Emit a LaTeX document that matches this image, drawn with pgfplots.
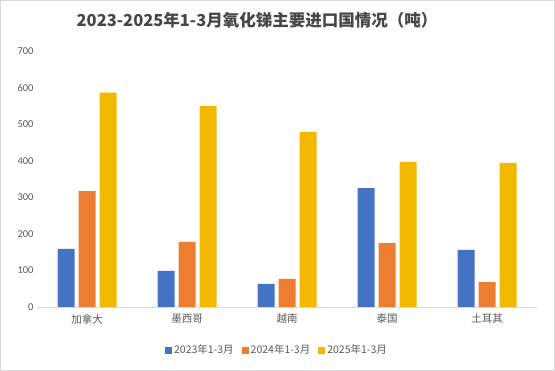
\documentclass[border=0pt]{standalone}
\usepackage{pgfplots}
\pgfplotsset{compat=1.18}
\usepackage{fontspec}
\setmainfont{Carlito}
\newfontfamily\cjk{Noto Sans CJK SC}
\definecolor{cblue}{HTML}{4472C4}
\definecolor{corange}{HTML}{ED7D31}
\definecolor{cyellow}{HTML}{F2B800}
\definecolor{ctext}{HTML}{595959}
\definecolor{cframe}{HTML}{D9D9D9}
\begin{document}
\begin{tikzpicture}
\fill[white] (0,0) rectangle (555bp,371bp);
\draw[cframe, line width=0.75bp] (0.5bp,0.5bp) rectangle (554.5bp,370.5bp);
\node[font=\cjk\bfseries\fontsize{16.5bp}{19bp}\selectfont, text=ctext!80!black] at (257bp,351bp) {2023-2025年1-3月氧化锑主要进口国情况（吨）};
\begin{axis}[
  at={(37bp,64bp)}, anchor=south west,
  scale only axis, width=500bp, height=256bp,
  xmin=-0.5, xmax=4.5, ymin=0, ymax=700,
  ybar=4bp, bar width=17bp,
  xtick=data,
  xticklabels={加拿大,墨西哥,越南,泰国,土耳其},
  x tick label style={font=\cjk\fontsize{10.5bp}{12bp}\selectfont, text=ctext, yshift=-3.5bp},
  ytick={0,100,...,700},
  y tick label style={font=\fontsize{10.5bp}{12bp}\selectfont, text=ctext},
  /pgf/number format/assume math mode=true,
  major tick length=0pt,
  axis lines*=left,
  y axis line style={draw=none},
  x axis line style={draw=cframe, line width=1bp, -},
  legend style={at={(0.48,-0.168)}, anchor=center, draw=none, fill=none, legend columns=-1,
    font=\cjk\fontsize{10.5bp}{12bp}\selectfont, text=ctext,
    /tikz/every even column/.append style={column sep=6bp}},
  legend image code/.code={\fill[#1] (0bp,-3.5bp) rectangle (7bp,3.5bp);},
]
\addplot[fill=cblue, draw=none] coordinates {(0,159) (1,99) (2,63) (3,325) (4,156)};
\addplot[fill=corange, draw=none] coordinates {(0,317) (1,178) (2,77) (3,175) (4,68)};
\addplot[fill=cyellow, draw=none] coordinates {(0,586) (1,550) (2,479) (3,397) (4,394)};
\legend{2023年1-3月,2024年1-3月,2025年1-3月}
\end{axis}
\pgfresetboundingbox
\path (0,0) rectangle (555bp,371bp);
\end{tikzpicture}
\end{document}
